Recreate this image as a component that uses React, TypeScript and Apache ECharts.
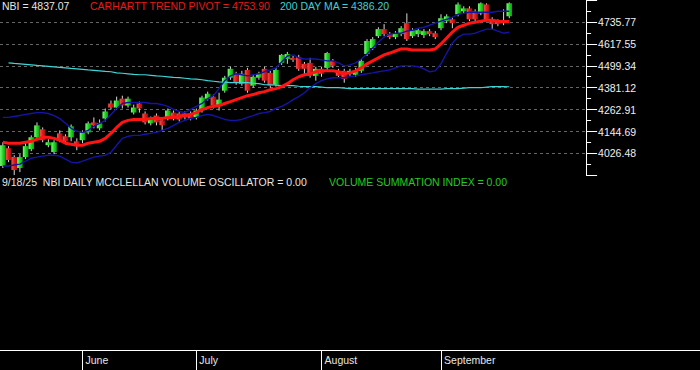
import React, { useEffect, useRef } from "react";
import * as echarts from "echarts";

// ---- data ----
const dates = [
  "2025-05-12","2025-05-13","2025-05-14","2025-05-15","2025-05-16","2025-05-19","2025-05-20","2025-05-21","2025-05-22","2025-05-23",
  "2025-05-27","2025-05-28","2025-05-29","2025-05-30",
  "2025-06-02","2025-06-03","2025-06-04","2025-06-05","2025-06-06","2025-06-09","2025-06-10","2025-06-11","2025-06-12","2025-06-13",
  "2025-06-16","2025-06-17","2025-06-18","2025-06-20","2025-06-23","2025-06-24","2025-06-25","2025-06-26","2025-06-27","2025-06-30",
  "2025-07-01","2025-07-02","2025-07-03","2025-07-07","2025-07-08","2025-07-09","2025-07-10","2025-07-11","2025-07-14","2025-07-15",
  "2025-07-16","2025-07-17","2025-07-18","2025-07-21","2025-07-22","2025-07-23","2025-07-24","2025-07-25","2025-07-28","2025-07-29",
  "2025-07-30","2025-07-31",
  "2025-08-01","2025-08-04","2025-08-05","2025-08-06","2025-08-07","2025-08-08","2025-08-11","2025-08-12","2025-08-13","2025-08-14",
  "2025-08-15","2025-08-18","2025-08-19","2025-08-20","2025-08-21","2025-08-22","2025-08-25","2025-08-26","2025-08-27","2025-08-28",
  "2025-08-29",
  "2025-09-02","2025-09-03","2025-09-04","2025-09-05","2025-09-08","2025-09-09","2025-09-10","2025-09-11","2025-09-12","2025-09-15",
  "2025-09-16","2025-09-17","2025-09-18",
];

const openV = [
  3959, 4055, 4007, 3948, 4007, 4050, 4114, 4157, 4071, 4034,
  4135, 4119, 4114, 4092, 4098, 4140, 4194, 4162, 4215, 4296,
  4274, 4322, 4285, 4247, 4296, 4242, 4189, 4231, 4205, 4215,
  4247, 4242, 4242, 4242, 4221, 4258, 4322, 4333, 4285, 4365,
  4435, 4456, 4403, 4477, 4392, 4435, 4483, 4461, 4397, 4515,
  4536, 4542, 4547, 4510, 4515, 4445, 4483, 4488, 4526, 4472,
  4472, 4456, 4451, 4472, 4563, 4595, 4659, 4697, 4670, 4654,
  4670, 4729, 4659, 4670, 4665, 4686, 4675, 4702, 4740, 4750,
  4777, 4793, 4809, 4793, 4782, 4830, 4750, 4740, 4745, 4766,
];
const closeV = [
  4071, 3991, 3937, 4007, 4066, 4114, 4178, 4098, 4087, 4087,
  4098, 4092, 4173, 4066, 4140, 4189, 4178, 4189, 4253, 4274,
  4312, 4285, 4322, 4274, 4269, 4194, 4215, 4194, 4178, 4258,
  4215, 4210, 4221, 4215, 4258, 4328, 4349, 4285, 4317, 4435,
  4483, 4408, 4456, 4365, 4440, 4456, 4419, 4392, 4477, 4558,
  4563, 4531, 4483, 4483, 4445, 4483, 4456, 4568, 4499, 4445,
  4429, 4472, 4472, 4526, 4633, 4643, 4697, 4670, 4654, 4675,
  4702, 4643, 4691, 4691, 4686, 4670, 4654, 4756, 4766, 4729,
  4830, 4809, 4750, 4750, 4836, 4750, 4724, 4724, 4729, 4837.07,
];
const lowV = [
  3948, 3980, 3910, 3926, 3996, 4039, 4103, 4087, 4060, 4023,
  4087, 4076, 4092, 4044, 4082, 4130, 4162, 4151, 4199, 4264,
  4264, 4269, 4274, 4237, 4247, 4183, 4178, 4178, 4151, 4205,
  4205, 4199, 4210, 4205, 4210, 4247, 4312, 4269, 4258, 4354,
  4424, 4397, 4392, 4354, 4381, 4424, 4408, 4381, 4387, 4504,
  4510, 4520, 4472, 4456, 4435, 4419, 4440, 4477, 4488, 4435,
  4408, 4445, 4440, 4461, 4552, 4584, 4649, 4659, 4643, 4643,
  4659, 4633, 4649, 4654, 4649, 4659, 4643, 4691, 4729, 4702,
  4766, 4782, 4740, 4740, 4772, 4740, 4697, 4713, 4718, 4756,
];
const highV = [
  4087, 4066, 4017, 4023, 4082, 4124, 4194, 4167, 4103, 4098,
  4151, 4130, 4183, 4108, 4151, 4199, 4221, 4210, 4269, 4312,
  4333, 4338, 4333, 4290, 4306, 4253, 4226, 4242, 4215, 4269,
  4258, 4253, 4253, 4253, 4269, 4338, 4360, 4344, 4354, 4445,
  4494, 4467, 4472, 4488, 4451, 4467, 4494, 4472, 4488, 4563,
  4574, 4552, 4558, 4520, 4542, 4494, 4494, 4574, 4536, 4483,
  4483, 4483, 4488, 4536, 4643, 4654, 4707, 4724, 4681, 4686,
  4713, 4782, 4702, 4702, 4697, 4697, 4686, 4777, 4777, 4761,
  4841, 4820, 4820, 4804, 4841, 4836, 4761, 4750, 4804, 4841,
];

const trendPivot = [
  4087, 4082, 4082, 4082, 4087, 4092, 4103, 4114, 4114, 4108,
  4098, 4082, 4076, 4071, 4071, 4082, 4087, 4092, 4108, 4135,
  4167, 4194, 4205, 4210, 4210, 4210, 4215, 4215, 4215, 4221,
  4221, 4226, 4231, 4237, 4247, 4264, 4274, 4280, 4285, 4296,
  4306, 4317, 4328, 4338, 4344, 4354, 4360, 4370, 4376, 4387,
  4403, 4424, 4440, 4451, 4456, 4467, 4472, 4472, 4472, 4467,
  4456, 4461, 4472, 4488, 4510, 4526, 4542, 4558, 4568, 4579,
  4590, 4590, 4584, 4584, 4584, 4584, 4590, 4617, 4649, 4681,
  4707, 4718, 4729, 4734, 4740, 4745, 4745, 4740, 4738, 4738,
];
const upperBand = [
  4221, 4221, 4226, 4231, 4237, 4242, 4247, 4247, 4242, 4231,
  4215, 4189, 4162, 4146, 4140, 4151, 4173, 4189, 4205, 4237,
  4269, 4296, 4301, 4301, 4301, 4301, 4296, 4296, 4290, 4280,
  4264, 4253, 4247, 4264, 4280, 4296, 4322, 4338, 4376, 4419,
  4445, 4456, 4451, 4445, 4451, 4456, 4467, 4477, 4488, 4520,
  4552, 4558, 4542, 4536, 4536, 4536, 4531, 4526, 4526, 4515,
  4499, 4504, 4515, 4536, 4563, 4595, 4627, 4654, 4670, 4675,
  4675, 4686, 4691, 4702, 4707, 4718, 4729, 4740, 4750, 4761,
  4777, 4782, 4788, 4788, 4788, 4788, 4788, 4793, 4793, 4793,
];
const lowerBand = [
  3959, 3959, 3964, 3969, 3985, 4001, 4007, 4012, 4017, 4017,
  4012, 3996, 3980, 3975, 3985, 3996, 4007, 4012, 4017, 4033,
  4071, 4108, 4119, 4124, 4124, 4130, 4135, 4140, 4151, 4162,
  4178, 4194, 4205, 4215, 4221, 4231, 4237, 4231, 4221, 4210,
  4205, 4205, 4210, 4221, 4231, 4242, 4247, 4253, 4269, 4280,
  4296, 4317, 4333, 4354, 4381, 4403, 4419, 4429, 4435, 4435,
  4435, 4440, 4445, 4451, 4456, 4461, 4467, 4472, 4477, 4488,
  4499, 4499, 4499, 4494, 4483, 4467, 4472, 4510, 4568, 4622,
  4654, 4670, 4670, 4675, 4686, 4697, 4697, 4686, 4675, 4681,
];
const ma200 = [
  null, 4515, 4512, 4510, 4507, 4504, 4501, 4499, 4496, 4493,
  4491, 4488, 4485, 4483, 4480, 4477, 4475, 4472, 4469, 4467,
  4461, 4459, 4456, 4453, 4451, 4451, 4448, 4445, 4443, 4440,
  4437, 4435, 4432, 4429, 4427, 4424, 4419, 4416, 4413, 4411,
  4408, 4408, 4408, 4408, 4405, 4403, 4397, 4397, 4395, 4392,
  4392, 4392, 4389, 4387, 4387, 4387, 4384, 4381, 4381, 4381,
  4379, 4376, 4376, 4376, 4376, 4376, 4376, 4376, 4376, 4376,
  4376, 4376, 4376, 4373, 4373, 4373, 4373, 4373, 4376, 4376,
  4376, 4379, 4381, 4381, 4381, 4384, 4387, 4387, 4387, 4386.2,
];

const yTickLabels = ["4026.48", "4144.69", "4262.91", "4381.12", "4499.34", "4617.55", "4735.77"];
const months = ["June", "July", "August", "September"];
const monthStarts = ["2025-06-02", "2025-07-01", "2025-08-01", "2025-09-02"];

const headerTexts = {
  nbi: "NBI = 4837.07",
  pivot: "CARHARTT TREND PIVOT = 4753.90",
  ma: "200 DAY MA = 4386.20",
  osc: "9/18/25  NBI DAILY MCCLELLAN VOLUME OSCILLATOR = 0.00",
  vsi: "VOLUME SUMMATION INDEX = 0.00",
};

const FONT = '"Liberation Sans", Arial, sans-serif';

export default function App() {
  const ref = useRef<HTMLDivElement>(null);

  useEffect(() => {
    if (!ref.current) return;
    const chart = echarts.init(ref.current, null, { renderer: "svg" });

    const n = dates.length;
    const topSlots = 103;
    const bottomSlots = 123;
    const topCats = dates.concat(Array.from({ length: topSlots - n }, (_, k) => "pad" + k));
    const bottomCats = dates.concat(Array.from({ length: bottomSlots - n }, (_, k) => "pad" + k));

    const tickVals = yTickLabels.map((s) => parseFloat(s));
    const interval = (tickVals[tickVals.length - 1] - tickVals[0]) / (tickVals.length - 1);
    const yMin = tickVals[0] - interval;
    const yMax = tickVals[tickVals.length - 1] + interval;

    const slot = 5.7146;
    const upGrad = new echarts.graphic.LinearGradient(0, 0, 1, 0, [
      { offset: 0, color: "#7cff7c" },
      { offset: 0.5, color: "#22d422" },
      { offset: 1, color: "#109a10" },
    ]);
    const downGrad = new echarts.graphic.LinearGradient(0, 0, 1, 0, [
      { offset: 0, color: "#ff5050" },
      { offset: 0.5, color: "#dd1c1c" },
      { offset: 1, color: "#9a1010" },
    ]);

    const candleData = dates.map((_, i) => [i, openV[i], closeV[i], lowV[i], highV[i]]);

    const monthIndex = (v: string) => monthStarts.indexOf(v);

    const option: any = {
      animation: false,
      backgroundColor: "#000000",
      grid: [
        { left: -2.5, top: -1.4, width: slot * topSlots, height: 176.8 },
        { left: -2.5, top: 340, width: slot * bottomSlots, height: 10 },
      ],
      xAxis: [
        {
          type: "category",
          gridIndex: 0,
          data: topCats,
          boundaryGap: true,
          show: false,
        },
        {
          type: "category",
          gridIndex: 1,
          data: bottomCats,
          boundaryGap: true,
          position: "bottom",
          axisLine: { show: true, lineStyle: { color: "#ffffff", width: 1 } },
          axisTick: {
            show: true,
            alignWithLabel: true,
            length: 20,
            interval: (_i: number, v: string) => monthIndex(v) >= 0,
            lineStyle: { color: "#ffffff", width: 1 },
          },
          axisLabel: {
            show: true,
            interval: (_i: number, v: string) => monthIndex(v) >= 0,
            formatter: (v: string) => (monthIndex(v) >= 0 ? months[monthIndex(v)] : ""),
            align: "left",
            padding: [0, 0, 0, 3],
            margin: 4,
            color: "#e6e6e6",
            fontSize: 10.5,
            fontFamily: FONT,
          },
          splitLine: { show: false },
        },
      ],
      yAxis: [
        {
          type: "value",
          gridIndex: 0,
          position: "right",
          min: yMin,
          max: yMax,
          interval: interval,
          axisLine: { show: true, lineStyle: { color: "#ffffff", width: 1 } },
          axisTick: { show: true, length: 11, lineStyle: { color: "#ffffff", width: 1 } },
          minorTick: { show: true, splitNumber: 2, length: 5, lineStyle: { color: "#ffffff", width: 1 } },
          axisLabel: {
            margin: 12,
            color: "#f0f0f0",
            fontSize: 10.5,
            fontFamily: FONT,
            formatter: (v: number) => {
              const hit = yTickLabels.find((s) => Math.abs(parseFloat(s) - v) < 1);
              return hit ?? "";
            },
          },
          splitLine: {
            show: true,
            showMinLine: false,
            showMaxLine: false,
            lineStyle: { color: "#666666", type: [3, 3], width: 1 },
          },
        },
        { type: "value", gridIndex: 1, show: false },
      ],
      series: [
        {
          type: "custom",
          name: "NBI",
          xAxisIndex: 0,
          yAxisIndex: 0,
          z: 2,
          data: candleData,
          encode: { x: 0, y: [1, 2, 3, 4] },
          renderItem: (_params: any, api: any) => {
            const idx = api.value(0);
            const o = api.value(1);
            const c = api.value(2);
            const l = api.value(3);
            const h = api.value(4);
            const po = api.coord([idx, o]);
            const pc = api.coord([idx, c]);
            const pl = api.coord([idx, l]);
            const ph = api.coord([idx, h]);
            const w = api.size([1, 0])[0] * 0.98;
            const up = c >= o;
            const top = Math.min(po[1], pc[1]);
            const hgt = Math.max(1.5, Math.abs(po[1] - pc[1]));
            return {
              type: "group",
              children: [
                {
                  type: "line",
                  shape: { x1: ph[0], y1: ph[1], x2: pl[0], y2: pl[1] },
                  style: { stroke: "#d8d8d8", lineWidth: 1 },
                },
                {
                  type: "rect",
                  shape: { x: po[0] - w / 2, y: top, width: w, height: hgt },
                  style: { fill: up ? upGrad : downGrad },
                },
              ],
            };
          },
        },
        {
          type: "line",
          name: "200 DAY MA",
          data: ma200,
          symbol: "none",
          z: 3,
          lineStyle: { color: "#3fd6d6", width: 1.2 },
        },
        {
          type: "line",
          name: "Upper",
          data: upperBand,
          symbol: "none",
          z: 3,
          lineStyle: { color: "#1414a8", width: 1.4 },
        },
        {
          type: "line",
          name: "Lower",
          data: lowerBand,
          symbol: "none",
          z: 3,
          lineStyle: { color: "#1414a8", width: 1.4 },
        },
        {
          type: "line",
          name: "Carhartt Trend Pivot",
          data: trendPivot,
          symbol: "none",
          z: 4,
          lineStyle: { color: "#ff1414", width: 3 },
        },
      ],
      graphic: [
        { type: "text", x: 2, y: 6, style: { text: headerTexts.nbi, fill: "#e6e6e6", font: `10.5px ${FONT}`, verticalAlign: "middle" } },
        { type: "text", x: 90, y: 6, style: { text: headerTexts.pivot, fill: "#e51c1c", font: `10.5px ${FONT}`, verticalAlign: "middle" } },
        { type: "text", x: 280, y: 6, style: { text: headerTexts.ma, fill: "#3fd0d0", font: `10.5px ${FONT}`, verticalAlign: "middle" } },
        { type: "text", x: 2, y: 182, style: { text: headerTexts.osc, fill: "#e6e6e6", font: `10.5px ${FONT}`, verticalAlign: "middle" } },
        { type: "text", x: 329, y: 182, style: { text: headerTexts.vsi, fill: "#22cc22", font: `10.5px ${FONT}`, verticalAlign: "middle" } },
      ],
    };

    chart.setOption(option);
    return () => chart.dispose();
  }, []);

  return (
    <div
      ref={ref}
      style={{ position: "fixed", left: 0, top: 0, width: 700, height: 370, background: "#000" }}
    />
  );
}
